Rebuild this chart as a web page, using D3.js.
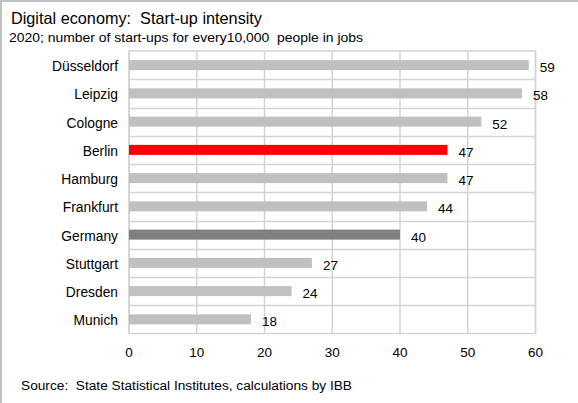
<!DOCTYPE html>
<html>
<head>
<meta charset="utf-8">
<script src="https://cdn.jsdelivr.net/npm/d3@7"></script>
<style>
  html, body { margin: 0; padding: 0; background: #fff; }
  svg { display: block; font-family: "Liberation Sans", Arial, sans-serif; }
  svg text { white-space: pre; }
</style>
</head>
<body>
<svg id="chart" width="578" height="403"></svg>
<script>
// Start-ups per 10,000 people in jobs, 2020
const cities = ["Düsseldorf", "Leipzig", "Cologne", "Berlin", "Hamburg",
                "Frankfurt", "Germany", "Stuttgart", "Dresden", "Munich"];
const values = [59, 58, 52, 47, 47, 44, 40, 27, 24, 18];
const xTicks = [0, 10, 20, 30, 40, 50, 60];

const title = "Digital economy:  Start-up intensity";
const subtitle = "2020; number of start-ups for every10,000  people in jobs";
const source = "Source:  State Statistical Institutes, calculations by IBB";

const svg = d3.select("#chart");
const W = 578, H = 403;
const plot = { left: 129, right: 535.5, top: 51, bottom: 333.5 };

const gridColor = "#d4d4d4";

// outer frame: top and left edges only
svg.append("line").attr("x1", 1).attr("x2", W).attr("y1", 1).attr("y2", 1)
  .attr("stroke", "#c0c0c0").attr("stroke-width", 2);
svg.append("line").attr("x1", 1).attr("x2", 1).attr("y1", 0).attr("y2", H)
  .attr("stroke", "#c0c0c0").attr("stroke-width", 2);

svg.append("text").attr("x", 11).attr("y", 24)
  .attr("font-size", 16.5).attr("fill", "#000")
  .attr("textLength", 251).attr("lengthAdjust", "spacingAndGlyphs")
  .text(title);
svg.append("text").attr("x", 9).attr("y", 41.5)
  .attr("font-size", 12.8).attr("fill", "#000")
  .attr("textLength", 354).attr("lengthAdjust", "spacingAndGlyphs")
  .text(subtitle);

const x = d3.scaleLinear().domain([0, 60]).range([plot.left, plot.right]);
const yBand = d3.scaleBand().domain(cities).range([plot.top, plot.bottom]).padding(0);

// horizontal grid lines between categories
svg.append("g").selectAll("line")
  .data(cities.slice(1))
  .join("line")
  .attr("x1", plot.left).attr("x2", plot.right)
  .attr("y1", d => Math.round(yBand(d)) + 0.5).attr("y2", d => Math.round(yBand(d)) + 0.5)
  .attr("stroke", gridColor).attr("stroke-width", 1.5);

// vertical grid lines
svg.append("g").selectAll("line")
  .data(xTicks)
  .join("line")
  .attr("x1", d => x(d)).attr("x2", d => x(d))
  .attr("y1", plot.top).attr("y2", plot.bottom)
  .attr("stroke", gridColor).attr("stroke-width", 1.5);

// plot border
svg.append("rect")
  .attr("x", plot.left).attr("y", plot.top)
  .attr("width", plot.right - plot.left).attr("height", plot.bottom - plot.top)
  .attr("fill", "none").attr("stroke", gridColor).attr("stroke-width", 1.5);

const colorFor = c => c === "Berlin" ? "#ff0000" : c === "Germany" ? "#808080" : "#c0c0c0";

const rows = cities.map((c, i) => ({ city: c, value: values[i] }));

// bars
svg.append("g").selectAll("rect")
  .data(rows)
  .join("rect")
  .attr("x", x(0))
  .attr("y", d => yBand(d.city) + yBand.bandwidth() / 2 - 5)
  .attr("width", d => x(d.value) - x(0))
  .attr("height", 10)
  .attr("fill", d => colorFor(d.city));

// value labels
svg.append("g").selectAll("text")
  .data(rows)
  .join("text")
  .attr("x", d => x(d.value) + 11)
  .attr("y", d => yBand(d.city) + yBand.bandwidth() / 2 + 7)
  .attr("font-size", 13.5).attr("fill", "#000")
  .text(d => d.value);

// category labels
svg.append("g").selectAll("text")
  .data(rows)
  .join("text")
  .attr("x", 118)
  .attr("y", d => yBand(d.city) + yBand.bandwidth() / 2 + 6)
  .attr("text-anchor", "end")
  .attr("font-size", 13.8).attr("fill", "#000")
  .text(d => d.city);

// x tick labels
svg.append("g").selectAll("text")
  .data(xTicks)
  .join("text")
  .attr("x", d => x(d))
  .attr("y", 357)
  .attr("text-anchor", "middle")
  .attr("font-size", 13.5).attr("fill", "#000")
  .text(d => d);

svg.append("text").attr("x", 21).attr("y", 389.5)
  .attr("font-size", 12.5).attr("fill", "#000")
  .attr("textLength", 331).attr("lengthAdjust", "spacingAndGlyphs")
  .text(source);
</script>
</body>
</html>
